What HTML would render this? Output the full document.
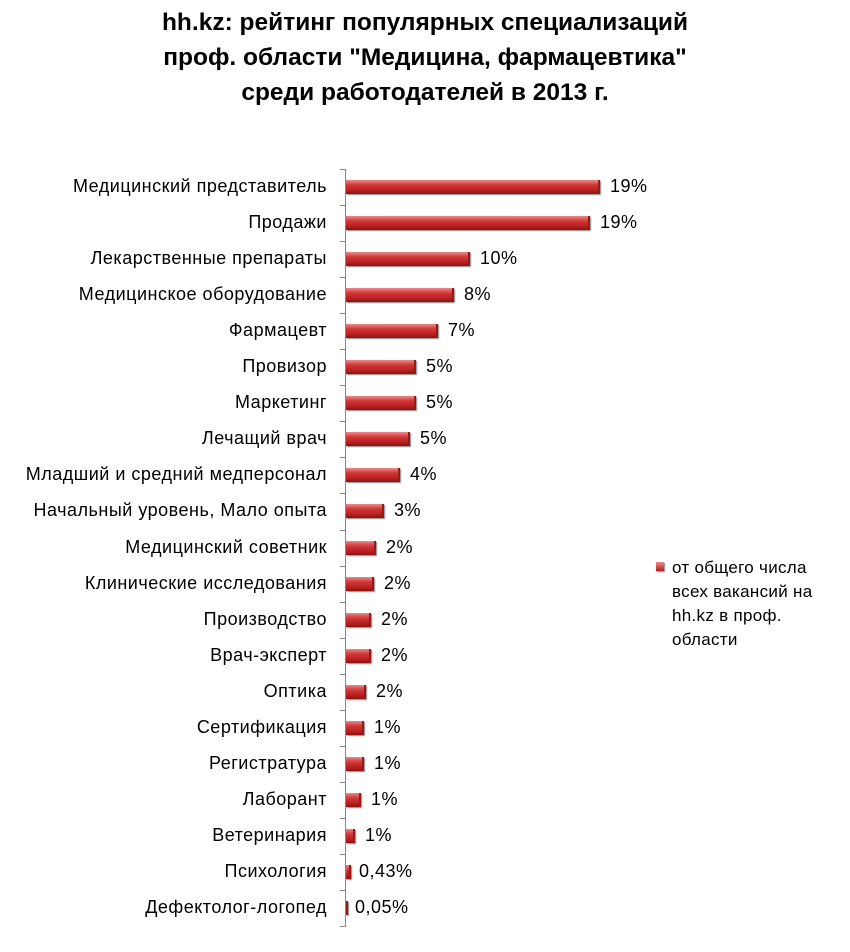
<!DOCTYPE html><html><head><meta charset="utf-8"><style>
body{margin:0;width:850px;height:952px;background:#fff;font-family:"Liberation Sans",sans-serif;position:relative;overflow:hidden}
.t{position:absolute;left:0;width:850px;text-align:center;font-weight:bold;font-size:24.5px;color:#000}
.l{position:absolute;right:523px;font-size:18px;letter-spacing:0.5px;white-space:nowrap;color:#000}
.b{position:absolute;left:346px;height:14px;background:linear-gradient(#e88a8a,#d23a3a 35%,#b71f1f 75%,#8d1212);box-shadow:1px 1px 1px #888;border-right:2px solid #9a1818}
.v{position:absolute;font-size:18px;letter-spacing:0.5px;color:#000}
.tk{position:absolute;left:340px;width:6px;height:1px;background:#888}
</style></head><body>
<div class="t" style="top:9px">hh.kz: рейтинг популярных специализаций</div>
<div class="t" style="top:44px">проф. области "Медицина, фармацевтика"</div>
<div class="t" style="top:79px">среди работодателей в 2013 г.</div>
<div style="position:absolute;left:345px;top:169px;width:1px;height:757px;background:#888"></div>
<div id="c"></div>
<div style="position:absolute;left:656px;top:562px;width:8px;height:9px;background:linear-gradient(#e88a8a,#b71f1f);box-shadow:1px 1px 1px #888"></div>
<div style="position:absolute;left:672px;top:556px;font-size:17px;letter-spacing:0.3px;line-height:24px;width:158px">от общего числа всех вакансий на hh.kz в проф. области</div>
<script>
var d=[["Медицинский представитель",600,"19%"],["Продажи",590,"19%"],["Лекарственные препараты",470,"10%"],["Медицинское оборудование",454,"8%"],["Фармацевт",438,"7%"],["Провизор",416,"5%"],["Маркетинг",416,"5%"],["Лечащий врач",410,"5%"],["Младший и средний медперсонал",400,"4%"],["Начальный уровень, Мало опыта",384,"3%"],["Медицинский советник",376,"2%"],["Клинические исследования",374,"2%"],["Производство",371,"2%"],["Врач-эксперт",371,"2%"],["Оптика",366,"2%"],["Сертификация",364,"1%"],["Регистратура",364,"1%"],["Лаборант",361,"1%"],["Ветеринария",355,"1%"],["Психология",351,"0,43%"],["Дефектолог-логопед",347,"0,05%"]];
var h="";
for(var i=0;i<d.length;i++){var y=187+i*36.05;
h+='<div class="l" style="top:'+(y-11)+'px">'+d[i][0]+'</div>';
h+='<div class="b" style="top:'+(y-7)+'px;width:'+(d[i][1]-348)+'px"></div>';
h+='<div class="v" style="top:'+(y-11)+'px;left:'+(d[i][1]+(d[i][2].length>3?8:10))+'px">'+d[i][2]+'</div>';
h+='<div class="tk" style="top:'+Math.round(y-18)+'px"></div>';}
h+='<div class="tk" style="top:'+Math.round(187+21*36.05-18)+'px"></div>';
document.getElementById("c").innerHTML=h;
</script>
</body></html>
